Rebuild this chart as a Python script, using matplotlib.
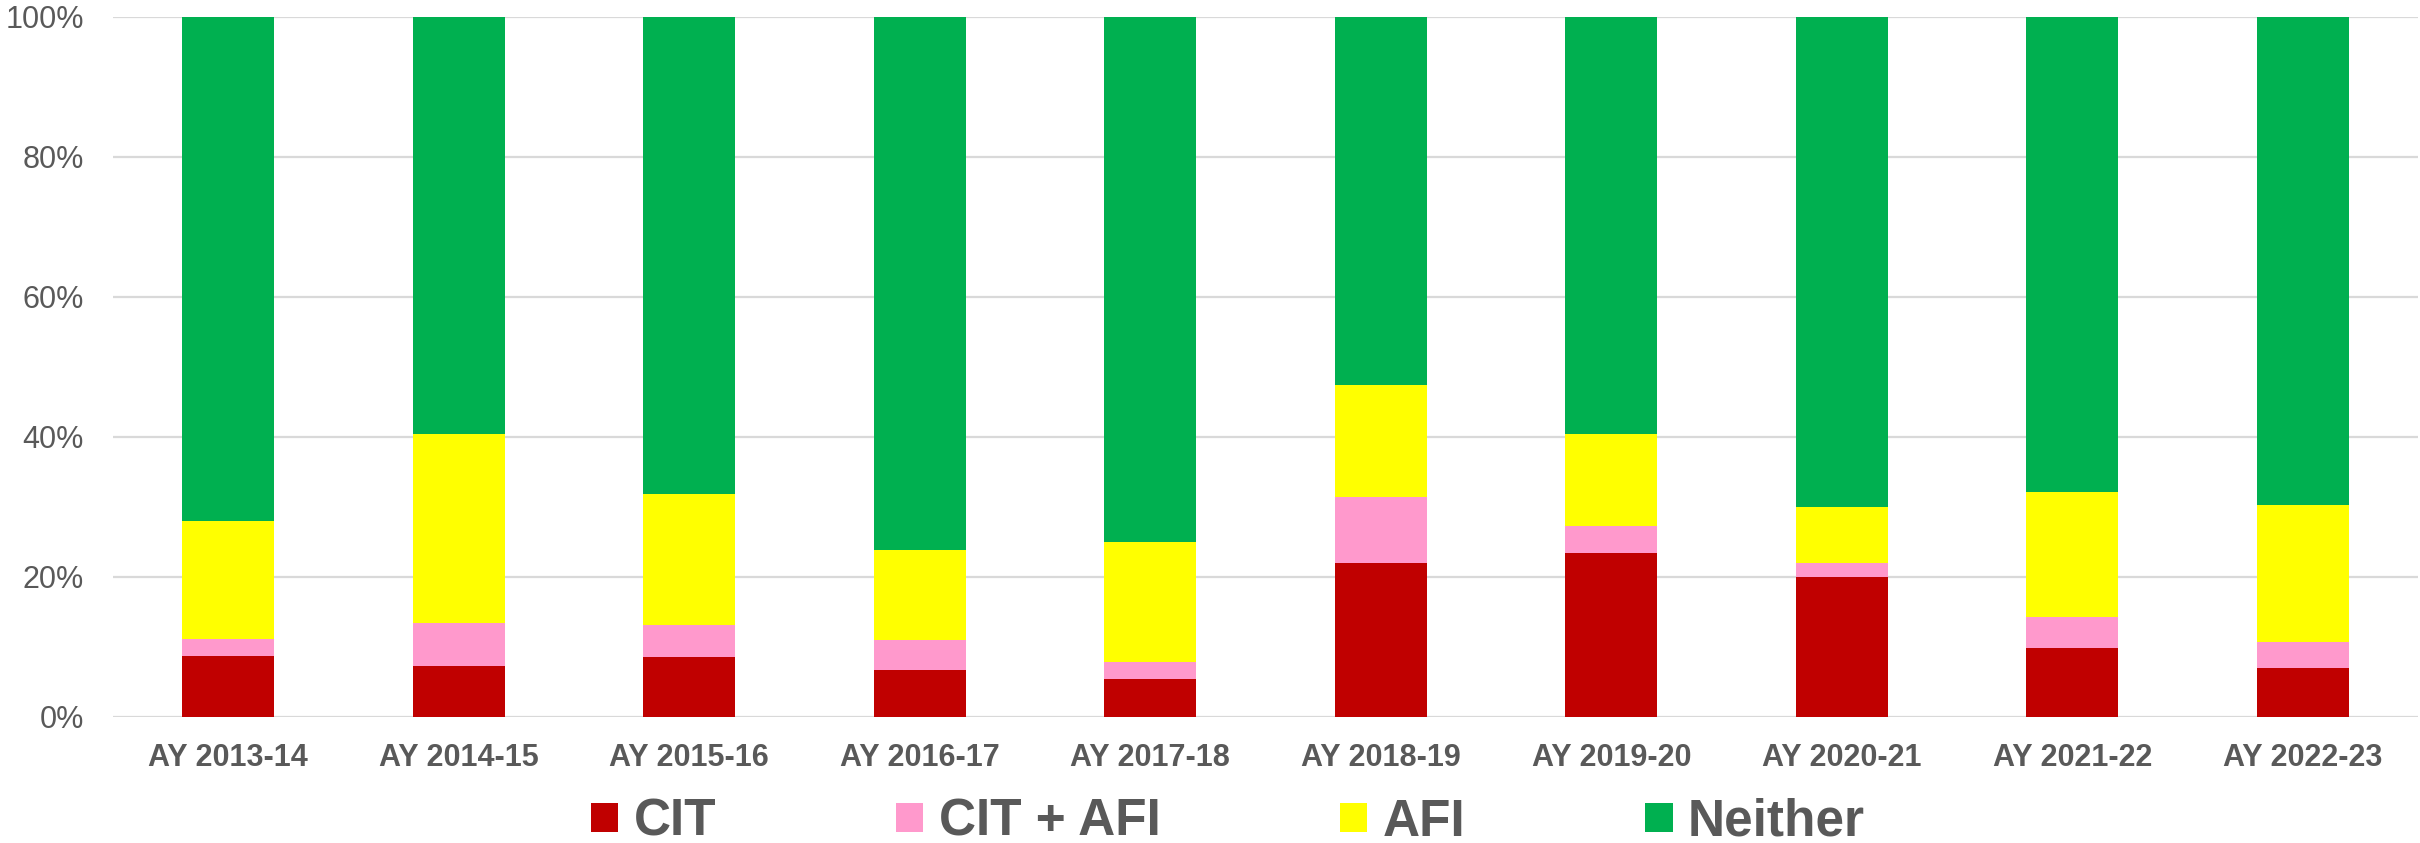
"""
Stacked 100% bars: CIT / AFI shares by academic year
"""

import matplotlib.pyplot as plt
from matplotlib.ticker import PercentFormatter

plt.rcParams['font.family'] = ['Liberation Sans', 'DejaVu Sans']

years = ['AY 2013-14', 'AY 2014-15', 'AY 2015-16', 'AY 2016-17', 'AY 2017-18',
         'AY 2018-19', 'AY 2019-20', 'AY 2020-21', 'AY 2021-22', 'AY 2022-23']

# shares in percent
cit = [8.7, 7.3, 8.6, 6.7, 5.5, 22.0, 23.5, 20.0, 9.9, 7.0]
cit_afi = [2.4, 6.1, 4.5, 4.3, 2.4, 9.5, 3.8, 2.0, 4.4, 3.7]
afi = [16.9, 27.1, 18.8, 12.9, 17.1, 15.9, 13.2, 8.0, 17.9, 19.6]
neither = [72.0, 59.5, 68.1, 76.1, 75.0, 52.6, 59.5, 70.0, 67.8, 69.7]

series = [('CIT', cit, '#C00000'),
          ('CIT + AFI', cit_afi, '#FF99CC'),
          ('AFI', afi, '#FFFF00'),
          ('Neither', neither, '#00B050')]

text_grey = '#595959'

fig = plt.figure(figsize=(24.2, 8.43), dpi=100)
ax = fig.add_axes([113 / 2420, 1 - 717 / 843, 2305 / 2420, 700 / 843])

x = range(len(years))
bottom = [0.0] * len(years)
for name, vals, color in series:
    ax.bar(x, vals, width=0.4, bottom=bottom, color=color, label=name,
           zorder=3)
    bottom = [b + v for b, v in zip(bottom, vals)]

ax.set_xlim(-0.5, len(years) - 0.5)
ax.set_ylim(0, 100)
ax.set_yticks(range(0, 101, 20))
ax.yaxis.set_major_formatter(PercentFormatter(decimals=0))
ax.set_xticks(list(x))
ax.set_xticklabels(years, fontweight='bold')

ax.grid(axis='y', color='#D9D9D9', linewidth=1.6, zorder=0)
ax.set_axisbelow(True)
for side in ['top', 'right', 'left', 'bottom']:
    ax.spines[side].set_visible(False)

ax.tick_params(axis='y', length=0, pad=21, labelsize=22, labelcolor=text_grey)
ax.tick_params(axis='x', length=0, pad=19, labelsize=22, labelcolor=text_grey)

leg = fig.legend(loc='center', bbox_to_anchor=(1228 / 2420, 1 - 822 / 843),
                 ncol=4, frameon=False, fontsize=37,
                 handlelength=0.53, handleheight=0.5, handletextpad=0.3,
                 columnspacing=3.5, borderaxespad=0, borderpad=0)
for t in leg.get_texts():
    t.set_color(text_grey)
    t.set_fontweight('bold')

fig.savefig('out.png', dpi=100)
